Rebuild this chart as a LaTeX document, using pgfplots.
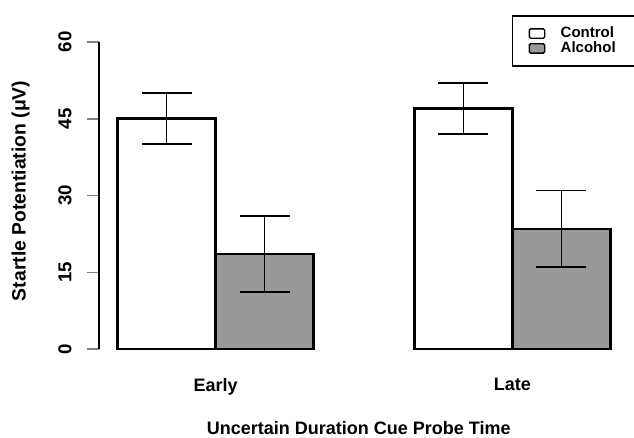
\documentclass[border=0pt]{standalone}
\usepackage{pgfplots}
\pgfplotsset{compat=1.18}
\usepackage{fontspec}
\setmainfont{Liberation Sans}
\definecolor{alcgray}{RGB}{153,153,153}
\begin{document}
\begin{tikzpicture}
\begin{axis}[
  scale only axis,
  width=397.5pt, height=230.7pt,
  xmin=-0.393, xmax=1.393,
  ymin=0, ymax=60,
  axis x line*=bottom,
  axis y line*=left,
  x axis line style={draw=none},
  y axis line style={line width=1.3pt},
  xtick={0,1},
  xticklabels={Early,Late},
  xtick style={draw=none},
  ytick={0,15,30,45,60},
  ytick style={line width=1.3pt},
  tick align=outside,
  major tick length=9pt,
  font=\bfseries,
  yticklabel style={rotate=90, anchor=south, font=\fontsize{14}{16}\selectfont\bfseries},
  xticklabel style={anchor=north, font=\fontsize{13.5}{16}\selectfont\bfseries},
  xticklabel shift=9pt,
  yticklabel shift=8pt,
  /pgf/number format/assume math mode=true,
  every axis y label/.style={at={(axis description cs:-0.148,0.515)}, rotate=90, anchor=center},
  every axis x label/.style={at={(axis description cs:0.49,-0.256)}, anchor=center},
  ylabel={\fontsize{14.5}{16}\selectfont Startle Potentiation (μV)},
  xlabel={Uncertain Duration Cue Probe Time},
  label style={font=\fontsize{13.5}{16}\selectfont\bfseries},
  ybar, bar width=0.33,
  legend style={at={(0.779,1.087)}, anchor=north west, draw=black, line width=1.2pt,
    font=\fontsize{11.25}{12}\selectfont\bfseries, inner xsep=12pt, inner ysep=6.5pt,
    row sep=-2.5pt, cells={anchor=west},
    /tikz/every even column/.append style={text width=58pt}},
  legend image code/.code={\draw[#1, line width=1pt, rounded corners=1pt] (0pt,-3.5pt) rectangle (11.5pt,3.5pt);},
  /tikz/every odd column/.append style={column sep=9.5pt},
  error bars/error bar style={line width=1.2pt},
  error bars/error mark options={rotate=90, mark size=18.75pt, line width=1.2pt},
]
\addplot[bar shift=0pt, fill=white, draw=black, line width=1.8pt,
  error bars/.cd, y dir=both, y explicit]
  coordinates {(-0.165,45) +- (0,5) (0.835,47) +- (0,5)};
\addlegendentry{Control}
\addplot[bar shift=0pt, fill=alcgray, draw=black, line width=1.8pt,
  error bars/.cd, y dir=both, y explicit]
  coordinates {(0.165,18.6) +- (0,7.4) (1.165,23.5) +- (0,7.45)};
\addlegendentry{Alcohol}
\end{axis}
\pgfresetboundingbox
\path[use as bounding box] (-74.25pt,-65.8pt) rectangle (401.25pt,262pt);
\end{tikzpicture}
\end{document}
